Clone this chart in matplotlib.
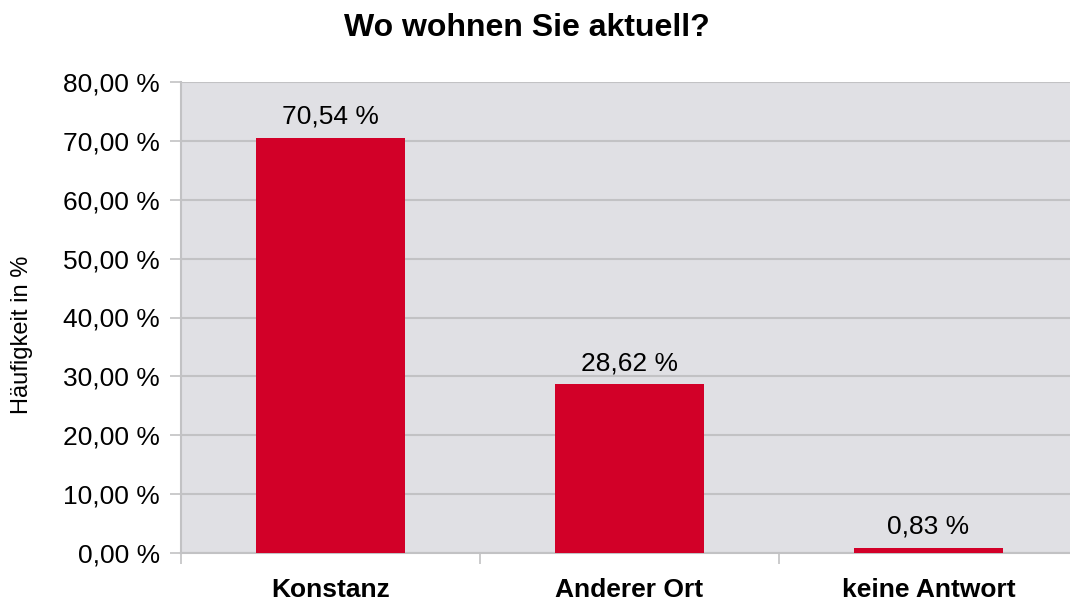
import matplotlib.pyplot as plt
import numpy as np
from matplotlib.ticker import FuncFormatter, FixedLocator

plt.rcParams['font.family'] = ['Liberation Sans', 'DejaVu Sans']

categories = ['Konstanz', 'Anderer Ort', 'keine Antwort']
values = [70.54, 28.62, 0.83]
yticks = [0, 10, 20, 30, 40, 50, 60, 70, 80]

BAR_RED = '#D20028'
BG_GRAY = '#E0E0E4'
GRID_GRAY = '#C2C2C4'

fig = plt.figure(figsize=(10.7, 6.01), dpi=100)
ax = fig.add_axes([181 / 1070, 48 / 601, 897 / 1070, 471 / 601])
ax.set_facecolor(BG_GRAY)

x = np.arange(len(categories))
bars = ax.bar(x, values, width=0.5, color=BAR_RED, zorder=3)

for xi, v in zip(x, values):
    ax.text(xi, v + 1.6, f"{v:.2f} %".replace('.', ','), ha='center', va='bottom',
            fontsize=19, color='black', zorder=4)

ax.set_xlim(-0.5, len(categories) - 0.5)
ax.set_ylim(0, 80)
ax.set_yticks(yticks)
ax.yaxis.set_major_formatter(FuncFormatter(lambda v, p: f"{v:.2f} %".replace('.', ',')))
ax.grid(axis='y', color=GRID_GRAY, linewidth=1.5, zorder=0)

ax.set_xticks(x)
ax.set_xticklabels(categories, fontsize=19, fontweight='bold')
ax.xaxis.set_minor_locator(FixedLocator(np.arange(-0.5, len(categories), 1.0)))
ax.tick_params(axis='x', which='major', length=0, pad=18)
ax.tick_params(axis='x', which='minor', length=8, width=1.2, color=GRID_GRAY)
ax.tick_params(axis='y', length=8, width=1.2, color=GRID_GRAY, labelsize=19, pad=7)

for side in ['top', 'right']:
    ax.spines[side].set_visible(False)
ax.spines['left'].set_color(GRID_GRAY)
ax.spines['bottom'].set_color(GRID_GRAY)
ax.spines['left'].set_linewidth(1.5)
ax.spines['bottom'].set_linewidth(1.5)

fig.text(22 / 1070, 1 - 335 / 601, 'Häufigkeit in %', rotation=90, ha='center', va='center', fontsize=17)
fig.text(527 / 1070, 1 - 28 / 601, 'Wo wohnen Sie aktuell?', ha='center', va='center',
         fontsize=23, fontweight='bold')

fig.savefig('out.png', dpi=100)
